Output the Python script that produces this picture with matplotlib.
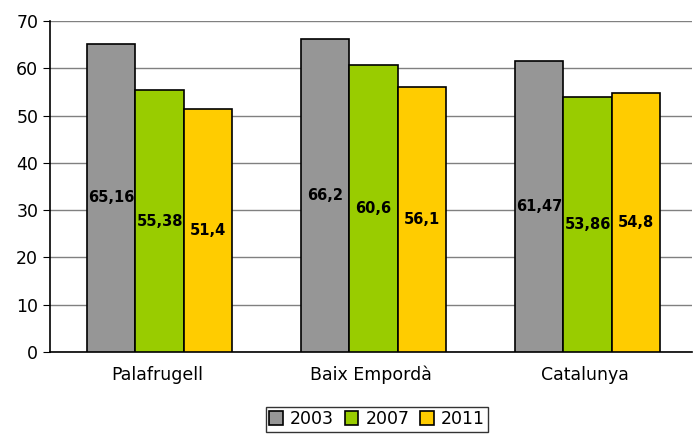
import numpy as np
import matplotlib.pyplot as plt

# Dades
llocs = ["Palafrugell", "Baix Empordà", "Catalunya"]
anys = ["2003", "2007", "2011"]
v2003 = [65.16, 66.2, 61.47]
v2007 = [55.38, 60.6, 53.86]
v2011 = [51.4, 56.1, 54.8]
etiquetes = [["65,16", "66,2", "61,47"],
             ["55,38", "60,6", "53,86"],
             ["51,4", "56,1", "54,8"]]

colors = ["#969696", "#99CC00", "#FFCC00"]

fig = plt.figure(figsize=(6.95, 4.38), dpi=100)
ax = fig.add_axes([50 / 695, 1 - 352 / 438, 642 / 695, 331 / 438])

x = np.arange(len(llocs))
w = 0.225
series = [v2003, v2007, v2011]
for i, (vals, col) in enumerate(zip(series, colors)):
    pos = x + (i - 1) * w + 0.012
    bars = ax.bar(pos, vals, w, color=col, edgecolor="black", linewidth=1.2,
                  label=anys[i], zorder=3)
    for b, txt in zip(bars, etiquetes[i]):
        ax.text(b.get_x() + b.get_width() / 2, b.get_height() / 2, txt,
                ha="center", va="center", fontsize=10.5, fontweight="bold", zorder=4)

ax.set_xlim(-0.5, 2.5)
ax.set_ylim(0, 70)
ax.set_yticks(range(0, 71, 10))
ax.set_xticks(x)
ax.set_xticklabels(llocs)
ax.tick_params(axis="x", length=0, labelsize=12.5, pad=10)
ax.tick_params(axis="y", length=5, labelsize=12.5, direction="out")
ax.yaxis.grid(True, color="#808080", linewidth=1, zorder=0)
for s in ["top", "right"]:
    ax.spines[s].set_visible(False)
ax.spines["left"].set_linewidth(1.2)
ax.spines["bottom"].set_linewidth(1.2)

leg = fig.legend(loc="lower center", bbox_to_anchor=(377 / 695, -0.005), ncol=3,
                 fontsize=12.5, frameon=True, fancybox=False, edgecolor="black",
                 handlelength=0.8, handleheight=0.8, handletextpad=0.4,
                 columnspacing=0.6, borderpad=0.2)
leg.get_frame().set_linewidth(1)

fig.savefig("out.png", dpi=100)
